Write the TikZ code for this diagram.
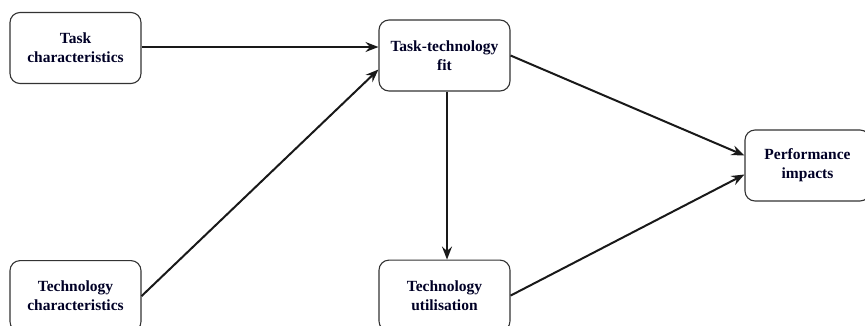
\documentclass[tikz,border=0pt]{standalone}
\usepackage{fontspec}
\setmainfont{Liberation Serif}
\usetikzlibrary{arrows.meta, positioning}
\tikzset{
    factor/.style={rectangle, rounded corners=10pt, draw=black!80, line width=1.1pt, fill=white, minimum height=71pt, minimum width=131pt, align=center, font=\fontsize{15.5}{19}\selectfont\bfseries, text=black!85!blue},
    arrow/.style={-{Stealth[length=13pt, width=10pt, inset=4.5pt]}, line width=2pt, draw=black!90},
}

\begin{document}
\begin{tikzpicture}[x=1pt, y=1pt]
        \useasboundingbox (0,0) rectangle (865,-325);
        % Nodes
        \node[factor] (task) at (75.5,-48) {Task\\characteristics};
        \node[factor, below=176pt of task] (tech) {Technology\\characteristics};
        \node[factor] (ttf) at (444.5,-55.5) {Task-technology\\fit};
        \node[factor, below=168pt of ttf] (util) {Technology\\utilisation};
        \node[factor, minimum width=125pt] (perf) at (807.5,-165.5) {Performance\\impacts};

        % Arrows
        \draw[arrow] ([yshift=1pt]task.east) -- ([yshift=1pt]task.east -| ttf.west);
        \draw[arrow] (tech.east) -- ([yshift=-14pt]ttf.west);
        \draw[arrow] ([xshift=2.5pt]ttf.south) -- ([xshift=2.5pt]util.north);
        \draw[arrow] (ttf.east) -- ([yshift=10pt]perf.west);
        \draw[arrow] (util.east) -- ([yshift=-9pt]perf.west);
    \end{tikzpicture}
\end{document}
